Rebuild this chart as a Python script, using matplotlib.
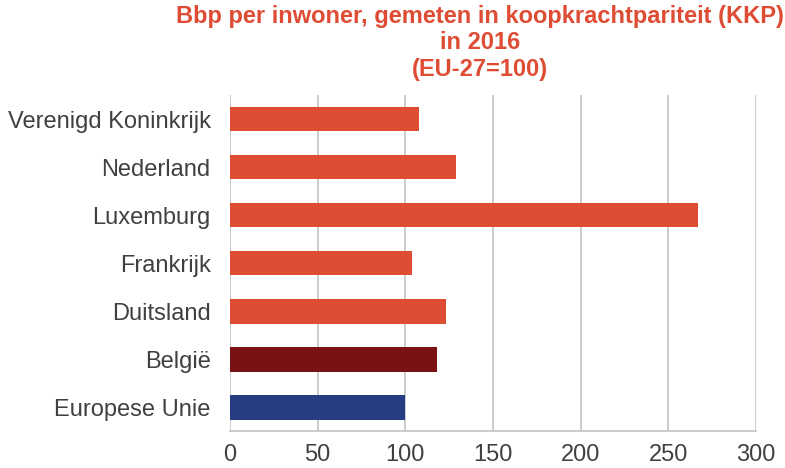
import matplotlib.pyplot as plt

# data
landen = ["Europese Unie", "België", "Duitsland", "Frankrijk",
          "Luxemburg", "Nederland", "Verenigd Koninkrijk"]
waarden = [100, 118, 123, 104, 267, 129, 108]
kleuren = ["#273D83", "#7A1214", "#DE4C33", "#DE4C33",
           "#DE4C33", "#DE4C33", "#DE4C33"]
xticks = [0, 50, 100, 150, 200, 250, 300]

plt.rcParams['font.family'] = ['Liberation Sans', 'DejaVu Sans']

fig = plt.figure(figsize=(7.85, 4.68), dpi=100)
ax = fig.add_axes([0.293, 0.079, 0.670, 0.718])

ax.barh(range(len(landen)), waarden, height=0.52, color=kleuren, zorder=3)

ax.set_xlim(0, 300)
ax.set_ylim(-0.5, len(landen) - 0.5)
ax.set_xticks(xticks)
ax.set_yticks(range(len(landen)))
ax.set_yticklabels(landen)
ax.tick_params(axis='both', length=0, labelsize=17, colors="#404040")
ax.tick_params(axis='y', pad=14)
ax.tick_params(axis='x', pad=9)

ax.grid(axis='x', color="#C4C4C4", linewidth=1.2, zorder=0)
for s in ["top", "right", "left"]:
    ax.spines[s].set_visible(False)
ax.spines["bottom"].set_color("#C4C4C4")
ax.spines["bottom"].set_linewidth(1.2)

fig.suptitle("Bbp per inwoner, gemeten in koopkrachtpariteit (KKP)\nin 2016\n(EU-27=100)",
             x=0.611, y=0.99, fontsize=17, fontweight="bold", color="#DE4C33",
             linespacing=1.2)

fig.savefig("out.png", dpi=100)
